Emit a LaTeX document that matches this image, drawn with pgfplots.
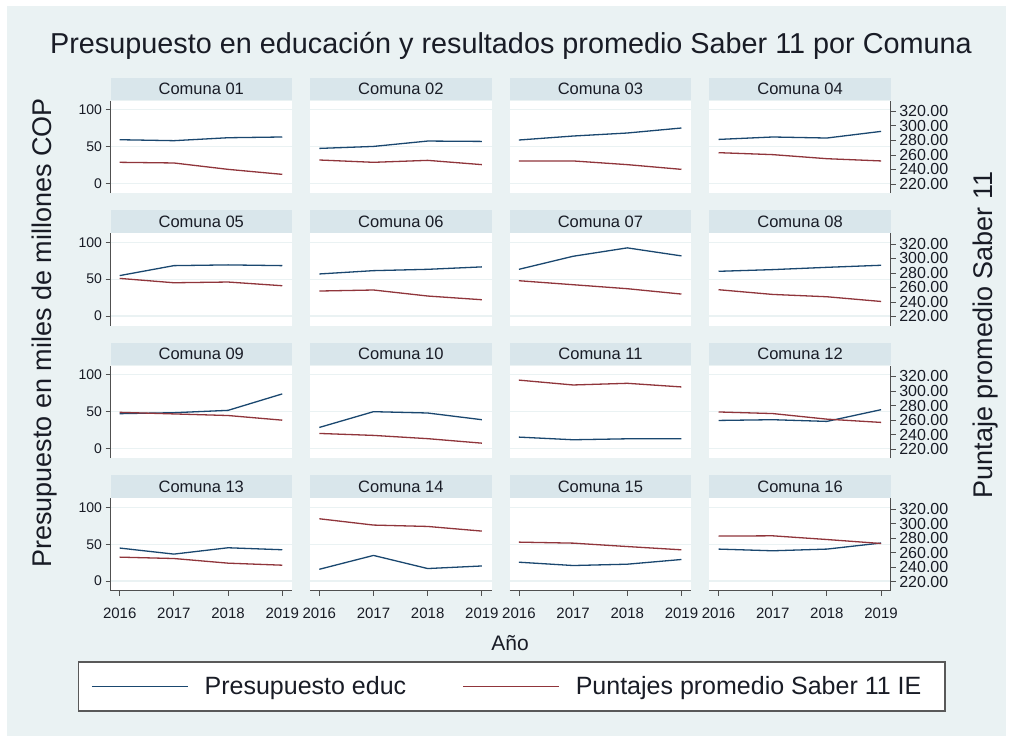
\documentclass[border=0pt]{standalone}
\usepackage{fontspec}
\setmainfont{Liberation Sans}
\usepackage{pgfplots}
\usepackage{pgfplotstable}
\pgfplotsset{compat=1.18}
\definecolor{bgc}{RGB}{234,242,243}
\definecolor{stripc}{RGB}{217,230,235}
\definecolor{gridc}{RGB}{234,242,243}
\definecolor{navy}{RGB}{26,71,111}
\definecolor{maroon}{RGB}{144,53,59}
\definecolor{axc}{RGB}{80,80,80}
\definecolor{txt}{RGB}{25,28,38}

\pgfplotstableread{
year b01 r01 b02 r02 b03 r03 b04 r04 b05 r05 b06 r06 b07 r07 b08 r08 b09 r09 b10 r10 b11 r11 b12 r12 b13 r13 b14 r14 b15 r15 b16 r16
2016 59.3 249.8 47.5 253.0 58.9 251.7 59.7 263.1 54.8 272.5 57.0 255.1 63.3 269.3 60.6 256.9 47.3 270.6 28.6 241.5 15.5 315.0 38.1 271.1 44.8 253.7 16.0 306.6 25.6 274.4 43.4 282.7
2017 58.0 248.9 50.2 249.8 64.3 251.7 63.0 260.4 68.3 266.5 61.5 256.5 81.0 263.8 62.9 250.4 48.6 268.4 50.0 238.8 11.9 308.3 39.1 268.9 36.6 251.8 34.8 297.9 21.1 273.0 41.1 283.1
2018 62.0 240.1 57.5 252.5 68.4 246.6 61.6 254.8 69.3 267.5 63.3 248.2 92.4 258.3 66.0 247.2 51.8 266.2 48.2 234.3 13.2 310.6 36.8 261.2 45.2 245.4 17.0 296.0 22.9 268.3 43.4 278.0
2019 63.0 233.2 57.0 246.6 75.2 240.1 70.6 251.7 68.3 262.4 66.6 243.1 81.5 250.9 68.8 240.7 74.1 259.8 39.1 228.1 13.2 305.6 52.7 256.7 42.5 242.6 20.5 289.6 29.3 263.8 51.6 272.5
}\data

\pgfplotsset{
  panel/.style={
    scale only axis, width=181.5pt, height=92.5pt, anchor=south west,
    xmin=2015.83, xmax=2019.18,
    /pgf/number format/assume math mode=true,
    tick align=outside, major tick length=5pt,
    tick style={axc, line width=0.8pt},
    axis line style={axc, line width=0.8pt},
    tick label style={font=\fontsize{14}{14}\selectfont, text=txt},
  },
}

\begin{document}
\begin{tikzpicture}
\useasboundingbox (0pt,0pt) rectangle (1013pt,-740pt);
\fill[white] (0pt,0pt) rectangle (1013pt,-740pt);
\fill[bgc] (7pt,-6pt) rectangle (1006pt,-736pt);

\foreach \n [count=\i from 0] in {01,02,03,04,05,06,07,08,09,10,11,12,13,14,15,16}{
  \pgfmathtruncatemacro\pc{mod(\i,4)}
  \pgfmathtruncatemacro\pr{div(\i,4)}
  \pgfmathsetmacro\px{110.5+199.6*\pc}
  \pgfmathsetmacro\py{-(193+132.55*\pr)}
  \ifnum\pc=0
    \pgfplotsset{lft/.style={yticklabels={0,50,100}}}
  \else
    \pgfplotsset{lft/.style={yticklabels={}, ytick style={draw=none}, y axis line style={draw=none}}}
  \fi
  \ifnum\pr=3
    \pgfplotsset{btm/.style={xtick={2016,2017,2018,2019}, xticklabels={2016,2017,2018,2019},
      xticklabel style={font=\fontsize{15}{15}\selectfont, yshift=-9pt}}}
  \else
    \pgfplotsset{btm/.style={xtick=\empty, x axis line style={draw=none}}}
  \fi
  \ifnum\pc=3
    \pgfplotsset{rgt/.style={axis y line*=right, axis x line=none,
      ytick={220,240,260,280,300,320},
      yticklabel style={font=\fontsize{16}{16}\selectfont, /pgf/number format/.cd, fixed, fixed zerofill, precision=2, /tikz/.cd}}}
  \else
    \pgfplotsset{rgt/.style={hide axis}}
  \fi
  \begin{axis}[panel, at={(\px pt,\py pt)},
    ymin=-13, ymax=112.5, ytick={0,50,100},
    axis x line*=bottom, axis y line*=left,
    ymajorgrids, major grid style={gridc, line width=1.2pt},
    axis background/.style={fill=white},
    lft, btm,
    every axis title shift=0pt,
    title={Comuna \n},
    title style={at={(0.5,1)}, anchor=south, yshift=0pt, fill=stripc, text=txt,
      minimum width=181.5pt, minimum height=22.5pt, inner sep=0pt,
      font=\fontsize{16.5}{16.5}\selectfont}]
    \addplot[navy, line width=1.3pt] table[x=year, y=b\n] {\data};
  \end{axis}
  \begin{axis}[panel, at={(\px pt,\py pt)}, ymin=207.5, ymax=335, rgt]
    \addplot[maroon, line width=1.3pt] table[x=year, y=r\n] {\data};
  \end{axis}
}

\begin{axis}[at={(0pt,-740pt)}, anchor=south west, scale only axis,
  width=1013pt, height=740pt, hide axis, xmin=0, xmax=1, ymin=0, ymax=1,
  legend columns=2,
  legend image code/.code={\draw[#1] (0pt,0pt) -- (96pt,0pt);},
  legend style={at={(0.50518,0.0723)}, anchor=center, draw=black!65, line width=1.5pt,
    fill=white, inner xsep=12.5pt, inner ysep=14.5pt,
    font=\fontsize{25}{25}\selectfont,
    nodes={inner sep=0pt, text=txt},
    /tikz/every odd column/.append style={column sep=16pt},
    /tikz/every even column/.append style={column sep=56pt}}]
  \addlegendimage{navy, line width=1.6pt}
  \addlegendentry{Presupuesto educ}
  \addlegendimage{maroon, line width=1.6pt}
  \addlegendentry{Puntajes promedio Saber 11 IE\kern11pt}
\end{axis}

\node[anchor=base, font=\fontsize{28.8}{30}\selectfont, text=txt] at (511pt,-53pt)
  {Presupuesto en educación y resultados promedio Saber 11 por Comuna};
\node[rotate=90, font=\fontsize{27}{27}\selectfont, text=txt] at (45pt,-333pt)
  {Presupuesto en miles de millones COP};
\node[rotate=90, font=\fontsize{27}{27}\selectfont, text=txt] at (986pt,-335pt)
  {Puntaje promedio Saber 11};
\node[anchor=base, font=\fontsize{21}{21}\selectfont, text=txt] at (510pt,-650pt) {Año};
\end{tikzpicture}
\end{document}
